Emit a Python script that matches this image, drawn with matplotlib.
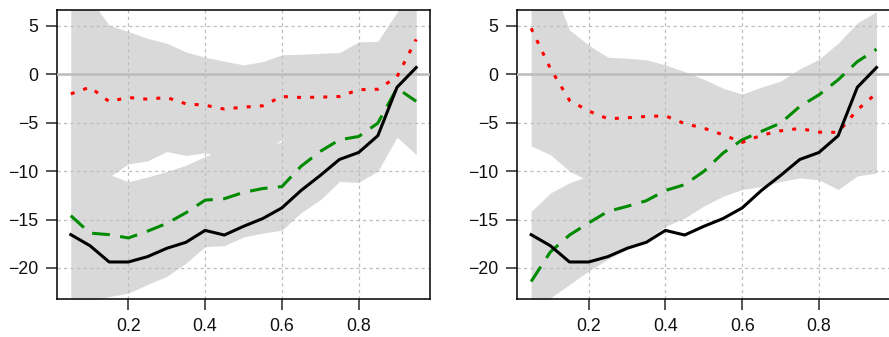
import matplotlib
matplotlib.use("Agg")
import matplotlib.pyplot as plt
import numpy as np

plt.rcParams["font.family"] = ["Liberation Sans", "DejaVu Sans"]

# Quantile levels
tau = [0.05, 0.10, 0.15, 0.20, 0.25, 0.30, 0.35, 0.40, 0.45, 0.50,
       0.55, 0.60, 0.65, 0.70, 0.75, 0.80, 0.85, 0.90, 0.95]

# True effect (same in both panels)
true_eff = [-16.56, -17.7, -19.38, -19.38, -18.83, -17.97, -17.35, -16.12, -16.6, -15.7,
            -14.9, -13.8, -12.0, -10.45, -8.8, -8.08, -6.35, -1.35, 0.69]

# Left panel estimates
red_left = [-2.03, -1.34, -2.82, -2.4, -2.58, -2.4, -3.06, -3.2, -3.6, -3.4,
            -3.26, -2.3, -2.4, -2.37, -2.3, -1.6, -1.55, -0.27, 3.6]
green_left = [-14.6, -16.4, -16.56, -16.9, -16.2, -15.4, -14.3, -13.0, -12.85, -12.2,
              -11.8, -11.6, -9.5, -7.97, -6.77, -6.43, -5.05, -1.44, -2.8]

# Left panel confidence bands
red_hi_left = [9.0, 7.8, 5.05, 4.4, 3.7, 3.2, 2.3, 1.75, 1.35, 0.96,
               1.3, 2.0, 2.06, 2.15, 2.23, 3.33, 3.4, 6.4, 12.0]
red_lo_left = [-13.0, -11.5, -10.6, -9.25, -8.94, -7.98, -8.39, -8.1, -8.6, -7.8,
               -7.9, -6.75, -6.9, -6.8, -6.5, -6.5, -6.5, -6.1, -5.0]
green_hi_left = [-5.0, -7.5, -10.35, -11.1, -10.6, -10.04, -9.4, -8.5, -7.6, -7.4,
                 -7.4, -7.0, -5.0, -3.5, -2.5, -1.7, 0.0, 3.8, 3.3]
green_lo_left = [-24.0, -23.35, -22.95, -22.6, -21.7, -20.86, -19.5, -17.8, -17.7, -16.8,
                 -16.4, -16.1, -14.3, -12.96, -11.07, -11.17, -10.0, -6.5, -8.3]

# Right panel estimates
red_right = [4.74, 0.6, -2.7, -3.8, -4.6, -4.5, -4.36, -4.3, -5.1, -5.57,
             -6.25, -7.04, -6.3, -5.84, -5.6, -5.98, -6.0, -3.68, -1.96]
green_right = [-21.4, -18.35, -16.6, -15.35, -14.16, -13.64, -13.06, -12.0, -11.4, -10.03,
               -8.14, -6.77, -5.9, -5.05, -3.33, -2.13, -0.58, 1.3, 2.58]

# Right panel confidence bands
red_hi_right = [11.0, 9.7, 4.57, 3.0, 1.75, 1.65, 1.48, 0.96, 0.27, -0.52,
                -1.44, -2.06, -1.34, -0.7, 0.55, 1.55, 3.2, 5.3, 6.45]
red_lo_right = [-7.4, -8.3, -10.0, -11.0, -13.0, -14.0, -14.0, -13.0, -12.0, -11.0,
                -10.0, -9.0, -8.0, -7.5, -7.0, -7.0, -7.0, -6.0, -6.0]
green_hi_right = [-14.16, -12.27, -11.2, -10.5, -9.5, -9.0, -8.5, -7.5, -7.0, -6.0,
                  -5.0, -4.0, -3.5, -3.0, -2.5, -2.0, -1.5, -1.0, -0.5]
green_lo_right = [-25.0, -23.1, -21.7, -20.3, -19.1, -18.1, -17.1, -15.7, -14.85, -13.6,
                  -12.6, -11.9, -11.6, -11.07, -10.7, -10.9, -11.9, -10.5, -10.2]

xticks = [0.2, 0.4, 0.6, 0.8]
yticks = [5, 0, -5, -10, -15, -20]

band_col = "#d9d9d9"
grid_col = "#bebebe"
red = "#ff0000"
green = "#008b00"


def draw_panel(ax, bands, red_vals, green_vals):
    for lo, hi in bands:
        ax.fill_between(tau, lo, hi, color=band_col, linewidth=0, zorder=1)
    for xv in xticks:
        ax.axvline(xv, color=grid_col, lw=0.9, dashes=(2.6, 2.6), zorder=2)
    for yv in yticks:
        ax.axhline(yv, color=grid_col, lw=0.9, dashes=(2.6, 2.6), zorder=2)
    ax.axhline(0, color=grid_col, lw=1.9, zorder=3)
    ax.plot(tau, true_eff, color="black", lw=2.2, zorder=5)
    ax.plot(tau, green_vals, color=green, lw=2.2, dashes=(5.8, 3.4), zorder=4)
    ax.plot(tau, red_vals, color=red, lw=2.2, dashes=(1.3, 3.0), zorder=4)

    ax.set_xlim(0.014, 0.986)
    ax.set_ylim(-23.2, 6.63)
    ax.set_xticks(xticks)
    ax.set_xticklabels([f"{v:.1f}" for v in xticks])
    ax.set_yticks(yticks)
    ax.tick_params(direction="out", length=8, width=1.4, color="#555555",
                   labelsize=12.8, pad=5.5, labelcolor="#111111")
    for sp in ax.spines.values():
        sp.set_linewidth(1.1)
        sp.set_color("black")


fig = plt.figure(figsize=(8.89, 3.37), dpi=100)
ax1 = fig.add_axes([0.0641, 0.1128, 0.4196, 0.8576])
ax2 = fig.add_axes([0.5819, 0.1128, 0.4196, 0.8576])

draw_panel(ax1, [(red_lo_left, red_hi_left), (green_lo_left, green_hi_left)],
           red_left, green_left)
draw_panel(ax2, [(red_lo_right, red_hi_right), (green_lo_right, green_hi_right)],
           red_right, green_right)
# right frame edge of the second panel falls just past the figure border
ax2.spines["right"].set_visible(False)

fig.savefig("out.png", dpi=100)
